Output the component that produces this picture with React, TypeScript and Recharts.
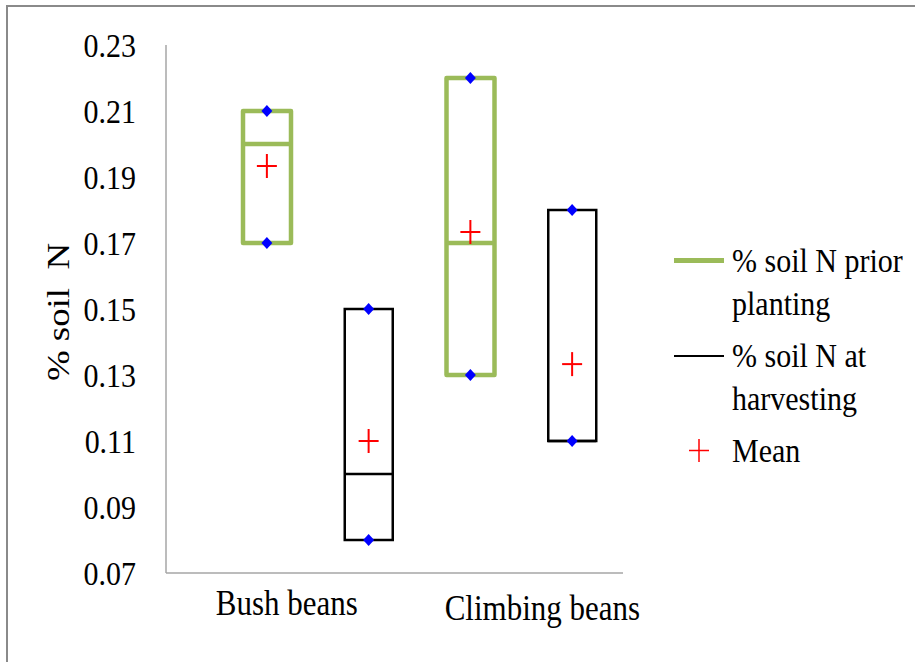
import React from 'react';
import { ComposedChart, Bar, Scatter, XAxis, YAxis } from 'recharts';

// ---- data ----
const categories = ['Bush beans', 'Climbing beans'];
const seriesNames = ['% soil N prior planting', '% soil N at harvesting'];
const meanLabel = 'Mean';
const yTitle = '% soil\u00a0\u00a0N';
// boxes in drawing order: Bush prior, Bush harvest, Climbing prior, Climbing harvest
const boxCategory = [0, 0, 1, 1];
const boxSeries = [0, 1, 0, 1];
const minValues = [0.17, 0.08, 0.13, 0.11];
const medianValues = [0.2, 0.1, 0.17, 0.11];
const maxValues = [0.21, 0.15, 0.22, 0.18];
const meanValues = [0.1933, 0.11, 0.1733, 0.1333];
const yTicks = [0.07, 0.09, 0.11, 0.13, 0.15, 0.17, 0.19, 0.21, 0.23];

// ---- styles ----
const FONT = "'Liberation Serif', 'Times New Roman', serif";
const COLORS = ['#9BBB59', '#000000'];
const STROKES = [4.5, 2.5];
const AXIS = '#a6a6a6';
const STRETCH = 1.15;
const BOX_W = 48;
const LABEL_DX = [20, 72];
const LABEL_DY = [42, 47];

const rows = minValues.map((_, i) => ({
  slot: `${categories[boxCategory[i]]}|${seriesNames[boxSeries[i]]}`,
  cat: boxCategory[i],
  series: boxSeries[i],
  range: [minValues[i], maxValues[i]],
  min: minValues[i],
  max: maxValues[i],
  median: medianValues[i],
  mean: meanValues[i],
}));

const BoxShape = (props: any) => {
  const { x, y, width, height, payload } = props;
  if (x == null || y == null) return <g />;
  const top = Math.min(y, y + height);
  const h = Math.abs(height);
  const s = payload.series;
  return (
    <rect
      x={x}
      y={top}
      width={width}
      height={h}
      fill="none"
      stroke={COLORS[s]}
      strokeWidth={STROKES[s]}
      strokeLinejoin={s === 0 ? 'round' : 'miter'}
    />
  );
};

const MedianShape = (props: any) => {
  const { cx, cy, payload } = props;
  if (cx == null || cy == null) return <g />;
  const s = payload.series;
  return (
    <line
      x1={cx - BOX_W / 2}
      x2={cx + BOX_W / 2}
      y1={cy}
      y2={cy}
      stroke={COLORS[s]}
      strokeWidth={STROKES[s]}
    />
  );
};

const DiamondShape = (props: any) => {
  const { cx, cy } = props;
  if (cx == null || cy == null) return <g />;
  return (
    <polygon
      points={`${cx},${cy - 6} ${cx + 5.5},${cy} ${cx},${cy + 6} ${cx - 5.5},${cy}`}
      fill="#0000FF"
    />
  );
};

const CrossShape = (props: any) => {
  const { cx, cy } = props;
  if (cx == null || cy == null) return <g />;
  return (
    <g stroke="#FF0000" strokeWidth={2}>
      <line x1={cx - 10} x2={cx + 10} y1={cy} y2={cy} />
      <line x1={cx} x2={cx} y1={cy - 12} y2={cy + 12} />
    </g>
  );
};

const YTick = (props: any) => {
  const { x, y, payload } = props;
  return (
    <text
      transform={`translate(${x},${y}) scale(1,${STRETCH})`}
      textAnchor="end"
      dy="0.34em"
      fontFamily={FONT}
      fontSize={30}
      fill="#000"
    >
      {Number(payload.value).toFixed(2)}
    </text>
  );
};

const XTick = (props: any) => {
  const { x, y, payload } = props;
  const row = rows.find((r) => r.slot === payload.value);
  if (!row || row.series !== 0) return <g />;
  return (
    <text
      transform={`translate(${x + LABEL_DX[row.cat]},${y + LABEL_DY[row.cat]}) scale(1,${STRETCH})`}
      textAnchor="middle"
      fontFamily={FONT}
      fontSize={31}
      fill="#000"
    >
      {categories[row.cat]}
    </text>
  );
};

const YTitle = (props: any) => {
  const vb = props.viewBox || { x: 66, y: 45, width: 100, height: 528 };
  const cx = vb.x - 8;
  const cy = vb.y + vb.height / 2 + 3;
  return (
    <text
      transform={`translate(${cx},${cy}) rotate(-90) scale(${STRETCH},1)`}
      textAnchor="middle"
      dy="0.34em"
      fontFamily={FONT}
      fontSize={32}
      fill="#000"
      style={{ whiteSpace: 'pre' }}
    >
      {yTitle}
    </text>
  );
};

const legendText: React.CSSProperties = {
  fontFamily: FONT,
  fontSize: 30,
  lineHeight: `${43 / STRETCH}px`,
  width: 184,
  transform: `scaleY(${STRETCH})`,
  transformOrigin: 'top left',
  color: '#000',
};

const Legend = () => {
  const items = [
    { label: seriesNames[0], kind: 'line', color: COLORS[0], w: 5, top: 239 },
    { label: seriesNames[1], kind: 'line', color: COLORS[1], w: 2, top: 334 },
    { label: meanLabel, kind: 'cross', color: '#FF0000', w: 2, top: 429 },
  ];
  return (
    <>
      {items.map((it) => (
        <div
          key={it.label}
          style={{ position: 'absolute', left: 674, top: it.top, display: 'flex' }}
        >
          <div style={{ width: 58, height: 43, position: 'relative' }}>
            {it.kind === 'line' ? (
              <div
                style={{
                  position: 'absolute',
                  left: 0,
                  width: 50,
                  top: 21.5 - it.w / 2,
                  height: it.w,
                  background: it.color,
                }}
              />
            ) : (
              <svg width={58} height={43} style={{ position: 'absolute', left: 0, top: 0 }}>
                <line x1={15} x2={35} y1={21.5} y2={21.5} stroke={it.color} strokeWidth={1.5} />
                <line x1={25} x2={25} y1={10} y2={33} stroke={it.color} strokeWidth={1.5} />
              </svg>
            )}
          </div>
          <div style={legendText}>{it.label}</div>
        </div>
      ))}
    </>
  );
};

export default function App() {
  return (
    <div
      style={{
        position: 'absolute',
        left: 0,
        top: 0,
        width: 915,
        height: 662,
        background: '#fff',
        overflow: 'hidden',
      }}
    >
      <div
        style={{
          position: 'absolute',
          left: 6,
          top: 5,
          width: 915,
          height: 662,
          borderTop: '2px solid #8a8a8a',
          borderLeft: '2px solid #8a8a8a',
        }}
      />
      <div style={{ position: 'absolute', left: 0, top: 0 }}>
        <ComposedChart
          width={915}
          height={662}
          data={rows}
          margin={{ top: 45, right: 292, bottom: 0, left: 66 }}
        >
          <XAxis
            dataKey="slot"
            type="category"
            padding={{ left: 50, right: 0 }}
            height={89}
            interval={0}
            tickLine={false}
            tickSize={0}
            tickMargin={0}
            axisLine={{ stroke: AXIS, strokeWidth: 1.5 }}
            tick={<XTick />}
          />
          <YAxis
            type="number"
            domain={[0.07, 0.23]}
            ticks={yTicks}
            allowDataOverflow
            width={100}
            tickLine={false}
            tickSize={0}
            tickMargin={30}
            axisLine={{ stroke: AXIS, strokeWidth: 1.5 }}
            tick={<YTick />}
            label={{ content: <YTitle /> }}
          />
          <Bar dataKey="range" barSize={BOX_W} isAnimationActive={false} shape={<BoxShape />} />
          <Scatter dataKey="median" isAnimationActive={false} shape={<MedianShape />} />
          <Scatter dataKey="min" isAnimationActive={false} shape={<DiamondShape />} />
          <Scatter dataKey="max" isAnimationActive={false} shape={<DiamondShape />} />
          <Scatter dataKey="mean" isAnimationActive={false} shape={<CrossShape />} />
        </ComposedChart>
      </div>
      <Legend />
    </div>
  );
}
